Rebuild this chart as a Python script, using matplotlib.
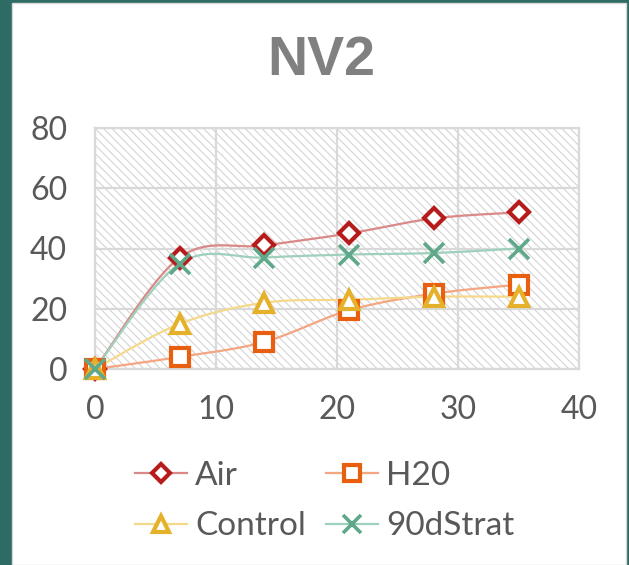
import numpy as np
import matplotlib
matplotlib.use("Agg")
import matplotlib.pyplot as plt
from matplotlib.patches import Rectangle
from matplotlib.lines import Line2D

days = [0, 7, 14, 21, 28, 35]
air = [0, 37, 41, 45, 50, 52]
h20 = [0, 4, 9, 19.5, 25, 28]
control = [0, 15, 22, 23, 24, 24]
strat = [0, 35, 37, 38, 38.5, 40]
series_names = ["Air", "H20", "Control", "90dStrat"]
x_ticks = [0, 10, 20, 30, 40]
y_ticks = [0, 20, 40, 60, 80]

W, H, DPI = 629, 565, 100
plt.rcParams["hatch.linewidth"] = 0.7
plt.rcParams["hatch.color"] = "#CFCFCF"
fig = plt.figure(figsize=(W / DPI, H / DPI), dpi=DPI)
fig.patch.set_facecolor("#2D6B64")
panel = Rectangle((12 / W, 0), 614 / W, 1 - 3 / H, transform=fig.transFigure,
                  facecolor="white", edgecolor="#D9D9D9", linewidth=1.0, zorder=-10)
fig.patches.append(panel)

ax = fig.add_axes([95 / W, (H - 369) / H, (579 - 95) / W, (369 - 128) / H])
ax.set_facecolor("white")
bg = Rectangle((0, 0), 1, 1, transform=ax.transAxes, facecolor="white",
               edgecolor="#CFCFCF", hatch="\\\\\\\\", linewidth=0, zorder=0)
ax.add_patch(bg)

def smooth(xs, ys, n=30):
    xs = np.asarray(xs, float); ys = np.asarray(ys, float)
    P = np.column_stack([xs, ys])
    out = []
    for i in range(len(P) - 1):
        p0 = P[i - 1] if i > 0 else P[i]
        p1 = P[i]; p2 = P[i + 1]
        p3 = P[i + 2] if i + 2 < len(P) else P[i + 1]
        c1 = p1 + (p2 - p0) / 6.0
        c2 = p2 - (p3 - p1) / 6.0
        t = np.linspace(0, 1, n)[:, None]
        seg = ((1 - t) ** 3) * p1 + 3 * ((1 - t) ** 2) * t * c1 + 3 * (1 - t) * t ** 2 * c2 + t ** 3 * p2
        out.append(seg if i == 0 else seg[1:])
    s = np.vstack(out)
    return s[:, 0], s[:, 1]

styles = [
    (air, "#D98A88", "#B71C1C", "D", 10, 3),
    (h20, "#F4A582", "#E8600F", "s", 13, 3),
    (control, "#F5D98A", "#E6B12A", "^", 13, 3),
    (strat, "#9FD0BC", "#5FA98A", "x", 14, 2.6),
]
handles = {}
for (vals, lc, mc, mk, ms, mw), name in zip(styles, series_names):
    sx, sy = smooth(days, vals)
    ax.plot(sx, sy, color=lc, lw=1.6, zorder=3, clip_on=False)
    if mk == "x":
        ax.plot(days, vals, ls="none", marker=mk, ms=ms, mec=mc, mew=mw, zorder=4, clip_on=False)
    else:
        ax.plot(days, vals, ls="none", marker=mk, ms=ms, mfc="white", mec=mc, mew=mw,
                zorder=4, clip_on=False)
    kw = dict(mfc="white") if mk != "x" else {}
    handles[name] = Line2D([], [], color=lc, lw=1.6, marker=mk,
                           ms=ms * 0.9, mec=mc, mew=mw, **kw)

ax.set_xlim(0, 40)
ax.set_ylim(0, 80)
ax.set_xticks(x_ticks)
ax.set_yticks(y_ticks)
ax.grid(True, color="#D9D9D9", lw=1.6, zorder=1)
ax.set_axisbelow(True)
for sp in ax.spines.values():
    sp.set_color("#D9D9D9")
    sp.set_linewidth(1.6)
    sp.set_zorder(1)
ax.tick_params(length=0, labelsize=23, labelcolor="#595959")
ax.tick_params(axis="y", pad=20)
ax.tick_params(axis="x", pad=19)
for lab in ax.get_xticklabels() + ax.get_yticklabels():
    lab.set_family("Lato")

fig.text(0.51, 1 - 61 / H, "NV2", ha="center", va="center", fontsize=40,
         fontweight="bold", color="#808080", family="Liberation Sans")

order = ["Air", "Control", "H20", "90dStrat"]
leg = fig.legend([handles[n] for n in order], order, loc="center", ncol=2,
                 bbox_to_anchor=(0.516, 1 - 501 / H), frameon=False,
                 prop={"family": "Lato", "size": 24}, labelcolor="#595959",
                 handlelength=1.55, columnspacing=0.6, handletextpad=0.25,
                 labelspacing=0.62)

fig.savefig("out.png", dpi=DPI, facecolor=fig.get_facecolor())
